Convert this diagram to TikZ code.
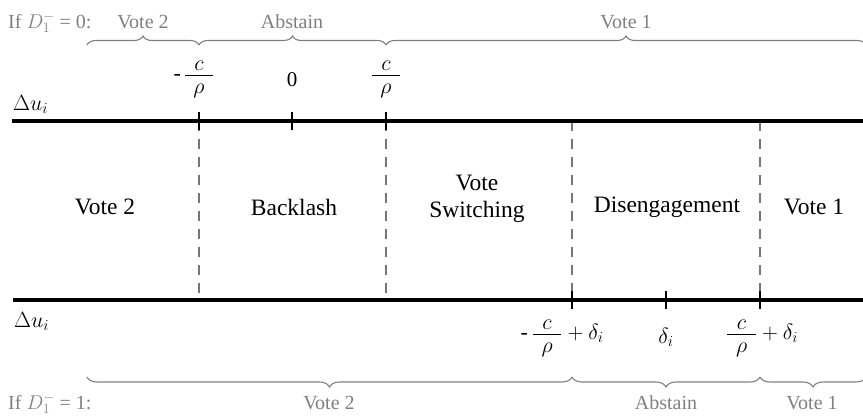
\RequirePackage{fix-cm}
\documentclass[tikz,border=0pt]{standalone}
\usepackage{fontspec}
\setmainfont{Liberation Serif}
\usetikzlibrary{decorations.pathreplacing}
\definecolor{lg}{HTML}{7F7F7F}
\definecolor{dg}{HTML}{767676}
\newcommand{\cfr}{{\displaystyle\frac{\raisebox{-5pt}{$\displaystyle\kern0.4em c\kern0.4em$}}{\raisebox{2pt}{$\displaystyle\kern0.4em\rho\kern0.4em$}}}}
\begin{document}
\begin{tikzpicture}[x=1pt,y=-1pt,
  axisline/.style={line width=4pt,black},
  tickmark/.style={line width=2.5pt,black},
  divider/.style={line width=2.5pt,dg,dash pattern=on 10pt off 8pt},
  bracetop/.style={draw=lg,line width=1.1pt,decorate,decoration={brace,amplitude=9pt}},
  bracebot/.style={draw=lg,line width=1.1pt,decorate,decoration={brace,amplitude=10pt,mirror}},
  grp/.style={text=lg,font=\fontsize{20}{24}\selectfont,inner sep=0pt,anchor=base},
  region/.style={font=\fontsize{23.5}{27.5}\selectfont,inner sep=0pt,align=center},
  mathlab/.style={font=\fontsize{22}{26}\selectfont,inner sep=0pt,anchor=base}
]
\useasboundingbox (0,0) rectangle (863,416);
% axes
\coordinate (tl) at (12,121); \coordinate (tr) at (863,121);
\coordinate (bl) at (13,300); \coordinate (br) at (863,300);
\coordinate (a1) at (199,121); \coordinate (a0) at (292,121); \coordinate (a2) at (386,121);
\coordinate (a3) at (572,121); \coordinate (a4) at (760,121);
\coordinate (b1) at (572,300); \coordinate (b0) at (666,300); \coordinate (b2) at (760,300);
\coordinate (c1) at (199,300); \coordinate (c2) at (386,300);
% dashed dividers
\draw[divider] (a1) -- (c1);
\draw[divider] (a2) -- (c2);
\draw[divider] (a3) -- (b1);
\draw[divider] (a4) -- (b2);
\draw[axisline] (tl) -- (tr);
\draw[axisline] (bl) -- (br);
% ticks
\foreach \p in {a1,a0,a2,b1,b0,b2}
  \draw[tickmark] ([yshift=9pt]\p) -- ([yshift=-9pt]\p);
% axis labels
\node[mathlab,anchor=base west] (du1) at (13,110) {$\Delta u_i$};
\node[mathlab,anchor=base west] (du2) at (14,327) {$\Delta u_i$};
% top fractions
\node[mathlab] (f1) at (199,80.5) {$\cfr$};
\node[mathlab,anchor=base east] (m1) at ([xshift=-2pt]f1.base west) {-};
\node[mathlab,font=\fontsize{21}{25}\selectfont] (f0) at (292,86) {0};
\node[mathlab] (f2) at (386,80.5) {$\cfr$};
% bottom fractions
\node[mathlab] (g1) at (562,339.5) {-\thinspace$\cfr+\delta_i$};
\node[mathlab] (g0) at (666,343) {$\delta_i$};
\node[mathlab] (g2) at (762,339.5) {$\cfr+\delta_i$};
% regions
\node[region] (r1) at (105,207) {Vote 2};
\node[region] (r2) at (294,207) {Backlash};
\node[region] (r3) at (477,199) {Vote\\Switching};
\node[region] (r4) at (667,207) {Disengagement};
\node[region] (r5) at (814,207) {Vote 1};
% top braces
\coordinate (t0) at (87,45); \coordinate (t1) at (199,45); \coordinate (t2) at (386,45); \coordinate (t3) at (866,45);
\draw[bracetop] (t0) -- (t1);
\draw[bracetop] (t1) -- (t2);
\draw[bracetop] (t2) -- (t3);
\node[grp,anchor=base west] (h1) at (8,28) {If $D_1^{-}$ = 0:};
\node[grp] (l1) at (143,28) {Vote 2};
\node[grp] (l2) at (292,28) {Abstain};
\node[grp] (l3) at (626,28) {Vote 1};
% bottom braces
\coordinate (s0) at (87,377); \coordinate (s1) at (572,377); \coordinate (s2) at (760,377); \coordinate (s3) at (866,377);
\draw[bracebot] (s0) -- (s1);
\draw[bracebot] (s1) -- (s2);
\draw[bracebot] (s2) -- (s3);
\node[grp,anchor=base west] (h2) at (8,409) {If $D_1^{-}$ = 1:};
\node[grp] (k1) at (329,409) {Vote 2};
\node[grp] (k2) at (666,409) {Abstain};
\node[grp] (k3) at (812,409) {Vote 1};
\end{tikzpicture}
\end{document}
